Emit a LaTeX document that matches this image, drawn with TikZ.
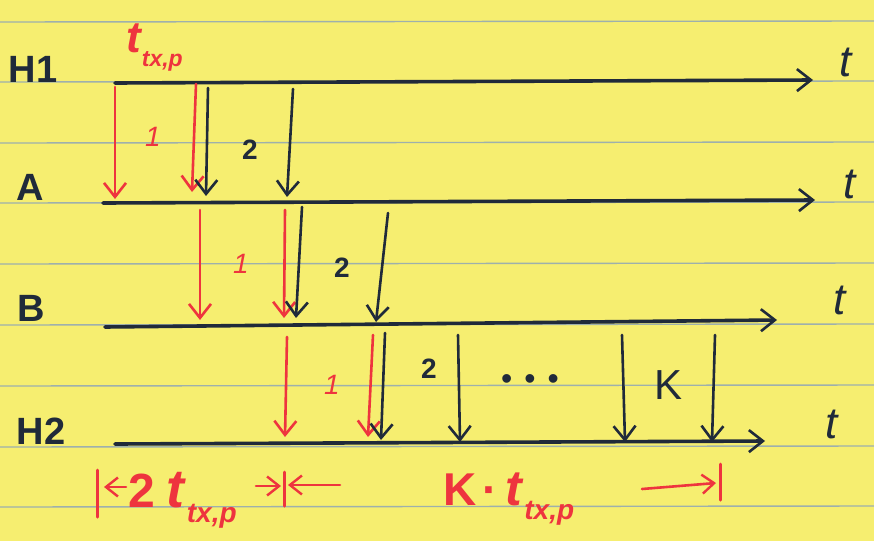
\documentclass[tikz,border=0pt]{standalone}
\usepackage{fontspec}
\setmainfont{Liberation Sans}
\usetikzlibrary{arrows.meta}
\definecolor{paper}{RGB}{246,238,112}
\definecolor{ruleln}{RGB}{158,176,172}
\definecolor{ink}{RGB}{32,42,58}
\definecolor{redink}{RGB}{238,52,62}
\newcommand{\subtx}[1]{\raisebox{-0.32em}{\fontsize{#1}{#1}\selectfont\bfseries\itshape tx,p}}
\begin{document}
\begin{tikzpicture}[x=1pt,y=-1pt,
  tip/.tip={Straight Barb[length=14pt,width=22pt,line width=2.6pt]},
  timeline/.style={draw=ink,line width=3.6pt,line cap=round,-{tip}},
  msgred/.style={draw=redink,line width=2.6pt,line cap=round,-{tip}},
  msgdark/.style={draw=ink,line width=2.6pt,line cap=round,-{tip}},
  lane/.style={text=ink,font=\fontsize{38}{38}\selectfont\bfseries},
  tlab/.style={text=ink,font=\fontsize{44}{44}\selectfont\itshape},
  numdark/.style={text=ink,font=\fontsize{28}{28}\selectfont\bfseries},
  numred/.style={text=redink,font=\fontsize{28}{28}\selectfont\itshape},
  redtxt/.style={text=redink,inner sep=0pt,anchor=base west},
  bar/.style={draw=redink,line width=3pt,line cap=round},
  dimarrow/.style={draw=redink,line width=2.6pt,line cap=round,-{Straight Barb[length=12pt,width=19pt,line width=2.4pt]}}
]
% paper
\fill[paper] (0,0) rectangle (874,541);
\useasboundingbox (0,0) rectangle (874,541);
\foreach \yy in {22,82,143,203,264,325,386,447,507}
  \draw[ruleln,line width=1.4pt] (0,\yy) -- (874,\yy-1);

% lane labels
\node[lane] (lH1) at (33,69) {H1};
\node[lane] (lA) at (30,187) {A};
\node[lane] (lB) at (31,308) {B};
\node[lane] (lH2) at (41,431) {H2};
\node[tlab] (tH1) at (846,62) {t};
\node[tlab] (tA) at (850,184) {t};
\node[tlab] (tB) at (840,300) {t};
\node[tlab] (tH2) at (832,424) {t};

% timelines
\coordinate (h1s) at (115,83); \coordinate (h1e) at (813,80);
\coordinate (as) at (103,203); \coordinate (ae) at (815,200);
\coordinate (bs) at (105,327); \coordinate (be) at (777,320);
\coordinate (h2s) at (115,444); \coordinate (h2e) at (765,441);
\draw[timeline] (h1s) -- (h1e);
\draw[timeline] (as) -- (ae);
\draw[timeline] (bs) -- (be);
\draw[timeline] (h2s) -- (h2e);

% top label
\node[redtxt,font=\fontsize{44}{44}\selectfont\bfseries\itshape] (ttop) at (126,52) {t\hspace{1pt}\subtx{23}};

% H1 -> A
\coordinate (r1a) at (115,87);  \coordinate (r1b) at (115,199);
\coordinate (r2a) at (196,84);  \coordinate (r2b) at (192,192);
\coordinate (d1a) at (208,88);  \coordinate (d1b) at (206,196);
\coordinate (d2a) at (293,89);  \coordinate (d2b) at (287,197);
\draw[msgred] (r1a) -- (r1b);
\draw[msgred] (r2a) -- (r2b);
\draw[msgdark] (d1a) -- (d1b);
\draw[msgdark] (d2a) -- (d2b);
\node[numred] (n1a) at (153,137) {1};
\node[numdark] (n2a) at (250,150) {2};

% A -> B
\coordinate (r3a) at (200,210); \coordinate (r3b) at (200,320);
\coordinate (r4a) at (285,210); \coordinate (r4b) at (284,318);
\coordinate (d3a) at (302,207); \coordinate (d3b) at (296,318);
\coordinate (d4a) at (388,213); \coordinate (d4b) at (376,322);
\draw[msgred] (r3a) -- (r3b);
\draw[msgred] (r4a) -- (r4b);
\draw[msgdark] (d3a) -- (d3b);
\draw[msgdark] (d4a) -- (d4b);
\node[numred] (n1b) at (241,264) {1};
\node[numdark] (n2b) at (342,268) {2};

% B -> H2
\coordinate (r5a) at (287,337); \coordinate (r5b) at (285,437);
\coordinate (r6a) at (373,335); \coordinate (r6b) at (368,437);
\coordinate (d5a) at (385,333); \coordinate (d5b) at (381,440);
\coordinate (d6a) at (458,335); \coordinate (d6b) at (460,442);
\coordinate (d7a) at (622,335); \coordinate (d7b) at (625,442);
\coordinate (d8a) at (715,335); \coordinate (d8b) at (712,442);
\draw[msgred] (r5a) -- (r5b);
\draw[msgred] (r6a) -- (r6b);
\draw[msgdark] (d5a) -- (d5b);
\draw[msgdark] (d6a) -- (d6b);
\draw[msgdark] (d7a) -- (d7b);
\draw[msgdark] (d8a) -- (d8b);
\node[numred] (n1c) at (332,385) {1};
\node[numdark] (n2c) at (429,369) {2};
\node[text=ink,font=\fontsize{32}{32}\selectfont] (dots) at (530,382) {•\hspace{12pt}•\hspace{12pt}•};
\node[text=ink,font=\fontsize{42}{42}\selectfont] (nK) at (668,385) {K};

% bottom left dimension
\coordinate (b1t) at (97,470); \coordinate (b1b) at (97,517);
\draw[bar] (b1t) -- (b1b);
\coordinate (la1) at (126,487); \coordinate (la2) at (104,487);
\draw[dimarrow] (la1) -- (la2);
\node[redtxt,font=\fontsize{48}{48}\selectfont\bfseries] (two) at (128,507) {2\hspace{12pt}{\fontsize{54}{54}\selectfont\itshape t}\hspace{2pt}\subtx{28}};
\coordinate (ra1) at (256,486); \coordinate (ra2) at (281,486);
\draw[dimarrow] (ra1) -- (ra2);
\coordinate (b2t) at (284,472); \coordinate (b2b) at (284,506);
\draw[bar] (b2t) -- (b2b);
\coordinate (la3) at (340,485); \coordinate (la4) at (288,485);
\draw[dimarrow] (la3) -- (la4);

% bottom right dimension
\node[redtxt,font=\fontsize{46}{46}\selectfont\bfseries] (Kb) at (443,505) {K\hspace{6pt}·\hspace{8pt}{\fontsize{50}{50}\selectfont\itshape t}\hspace{2pt}\subtx{28}};
\coordinate (ka1) at (642,489); \coordinate (ka2) at (716,483);
\draw[dimarrow] (ka1) -- (ka2);
\coordinate (b3t) at (720,464); \coordinate (b3b) at (720,500);
\draw[bar] (b3t) -- (b3b);
\end{tikzpicture}
\end{document}
